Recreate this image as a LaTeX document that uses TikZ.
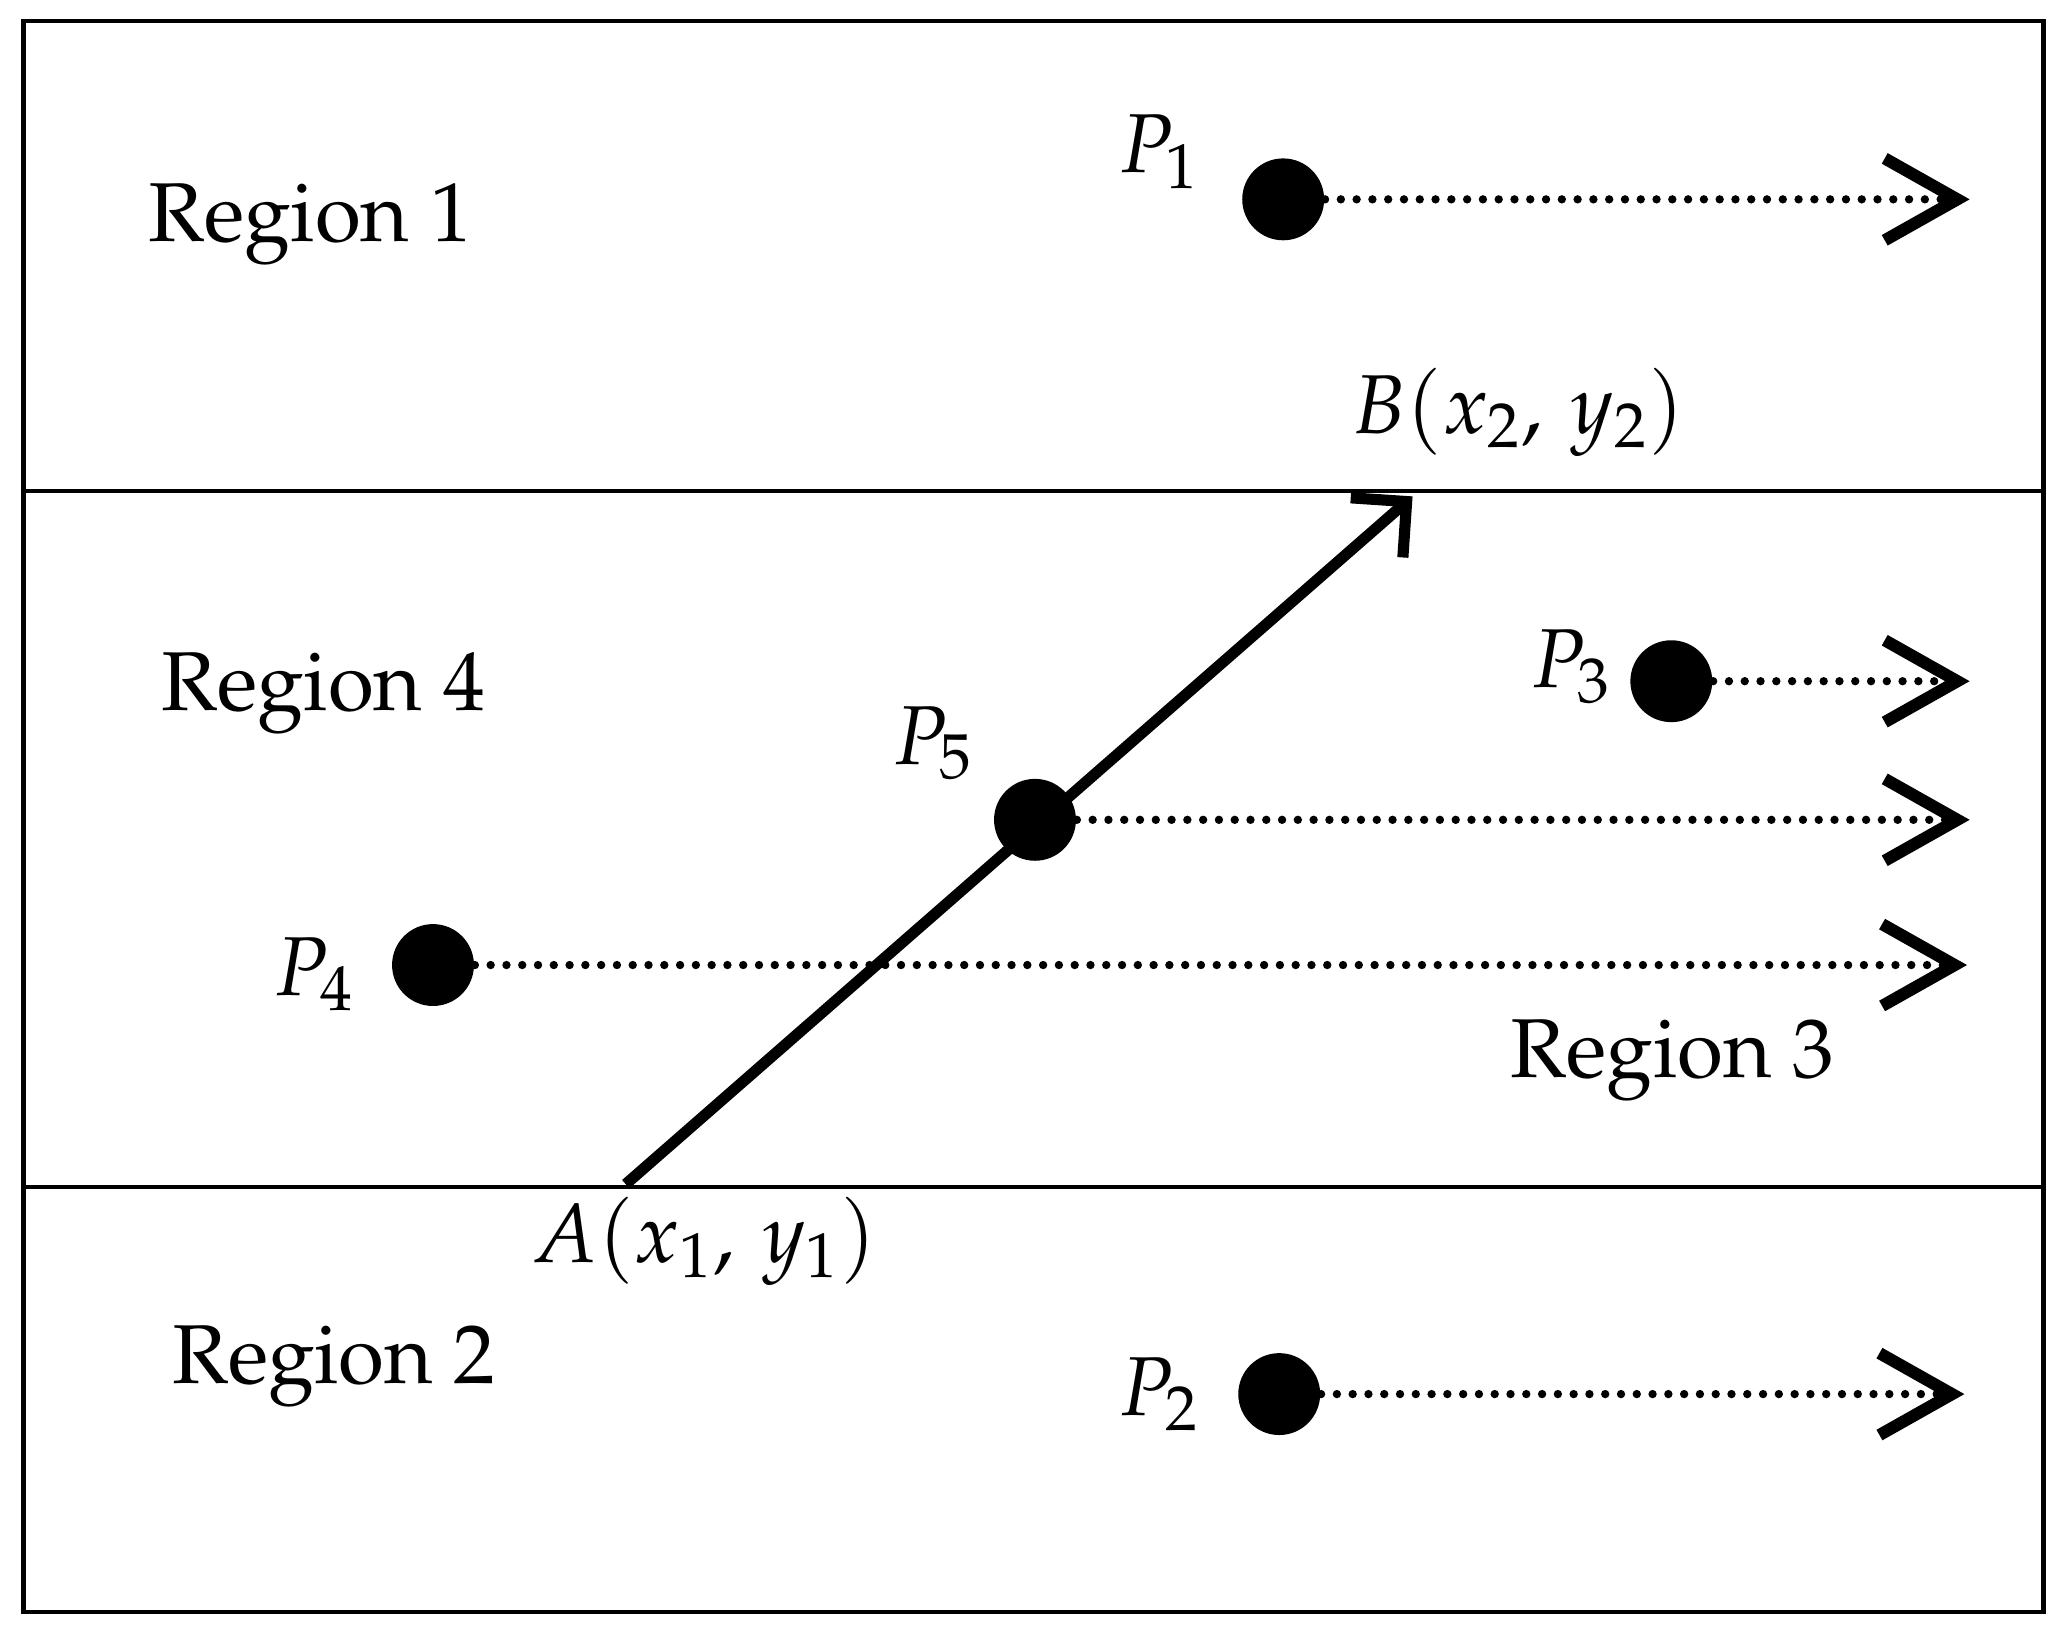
\documentclass[tikz,border=0pt]{standalone}
\usepackage[T1]{fontenc}
\usepackage{mathpazo}
\usetikzlibrary{arrows.meta}
\begin{document}
\begin{tikzpicture}[x=0.01cm,y=-0.01cm,
  dot/.style={circle,fill=black,minimum size=0.62cm,inner sep=0pt},
  lbl/.style={font=\fontsize{18}{21}\selectfont,inner sep=0pt},
  darr/.style={line width=1.8pt,dash pattern=on 0pt off 3.4pt,line cap=round,
     -{Straight Barb[length=0.55cm,width=0.62cm,line width=2.6pt]}},
  sarr/.style={line width=2.4pt,-{Straight Barb[length=0.3cm,width=0.6cm,line width=2.4pt]}}]
\useasboundingbox (0,0) rectangle (1568,1239);
\draw[line width=1pt] (18,16) rectangle (1548,1221);
\draw[line width=0.8pt] (18,372) -- (1548,372);
\draw[line width=0.8pt] (18,899) -- (1548,899);
\node[dot] (p1) at (972,151) {};
\node[dot] (p3) at (1266,516) {};
\node[dot] (p5) at (784,621) {};
\node[dot] (p4) at (328,731) {};
\node[dot] (p2) at (969,1056) {};
\coordinate (e1) at (1492,151);
\coordinate (e3) at (1492,516);
\coordinate (e5) at (1492,621);
\coordinate (e4) at (1490,731);
\coordinate (e2) at (1488,1056);
\coordinate (a) at (474,897);
\coordinate (b) at (1070,376);
\draw[sarr] (a) -- (b);
\foreach \s/\e in {p1/e1,p3/e3,p5/e5,p4/e4,p2/e2} \draw[darr] (\s.east) -- (\e);
\node[lbl] (r1) at (235,170) {Region 1};
\node[lbl] (r4) at (245,525) {Region 4};
\node[lbl] (r3) at (1267,803) {Region 3};
\node[lbl] (r2) at (253,1035) {Region 2};
\node[lbl] (l1) at (878,115) {$P_1$};
\node[lbl] (l3) at (1190,505) {$P_3$};
\node[lbl] (l5) at (707,563) {$P_5$};
\node[lbl] (l4) at (238,738) {$P_4$};
\node[lbl] (l2) at (878,1056) {$P_2$};
\node[lbl] (lb) at (1150,312) {$B(x_2,\,y_2)$};
\node[lbl] (la) at (533,940) {$A(x_1,\,y_1)$};
\end{tikzpicture}
\end{document}
